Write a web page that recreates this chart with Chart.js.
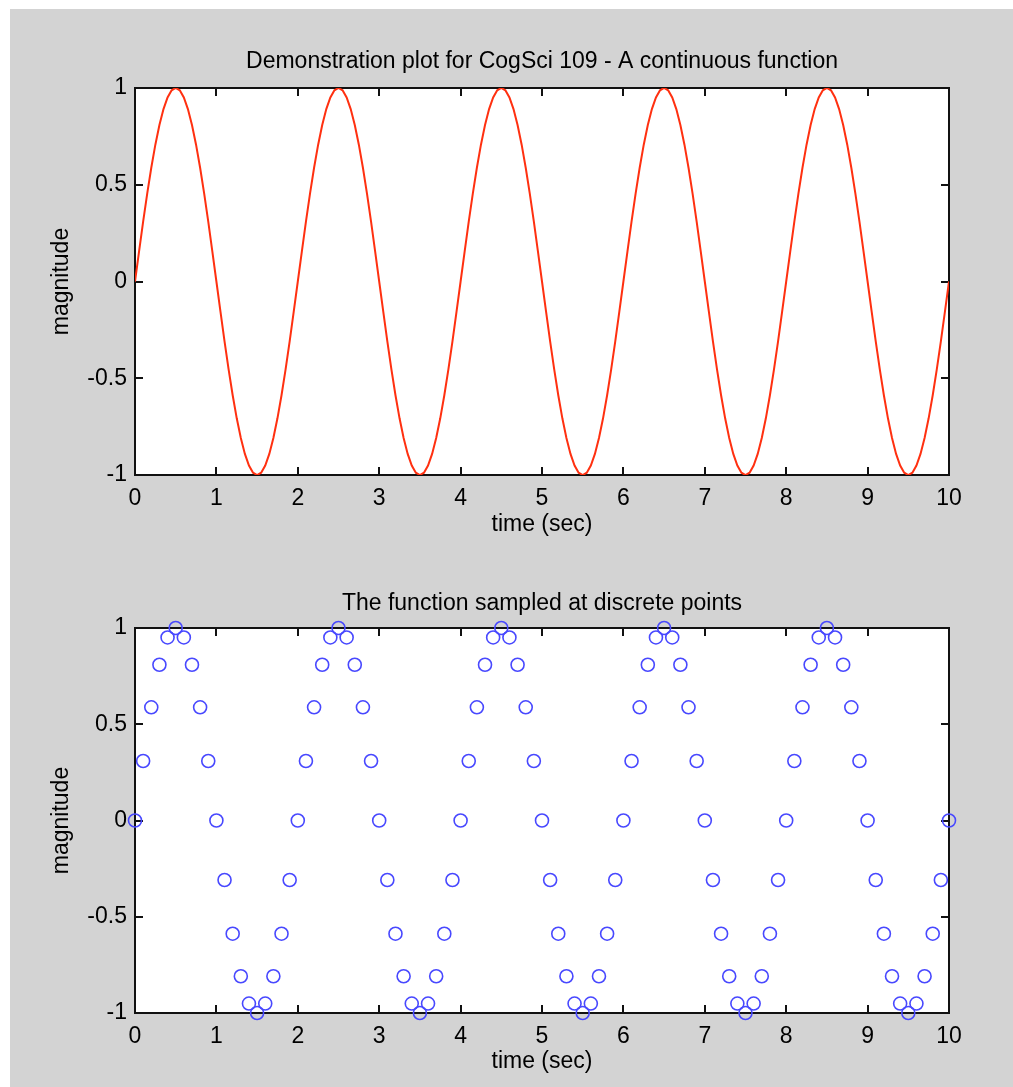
<!DOCTYPE html>
<html><head><meta charset="utf-8">
<script src="https://cdn.jsdelivr.net/npm/chart.js@4"></script>
<style>
html,body{margin:0;padding:0;background:#fff;width:1013px;height:1087px;overflow:hidden;}
#bg{position:absolute;left:10px;top:9px;width:1003px;height:1078px;background:#d3d3d3;}
canvas{position:absolute;left:0;}
#c1{top:0}
#c2{top:545px}
</style></head><body>
<div id="bg"></div>
<canvas id="c1" width="1013" height="545"></canvas>
<canvas id="c2" width="1013" height="542"></canvas>
<script>
// ---- data ----
const fineTimes = [
0,0.05,0.1,0.15,0.2,0.25,0.3,0.35,0.4,0.45,0.5,0.55,0.6,0.65,0.7,0.75,0.8,0.85,0.9,0.95,
1,1.05,1.1,1.15,1.2,1.25,1.3,1.35,1.4,1.45,1.5,1.55,1.6,1.65,1.7,1.75,1.8,1.85,1.9,1.95,
2,2.05,2.1,2.15,2.2,2.25,2.3,2.35,2.4,2.45,2.5,2.55,2.6,2.65,2.7,2.75,2.8,2.85,2.9,2.95,
3,3.05,3.1,3.15,3.2,3.25,3.3,3.35,3.4,3.45,3.5,3.55,3.6,3.65,3.7,3.75,3.8,3.85,3.9,3.95,
4,4.05,4.1,4.15,4.2,4.25,4.3,4.35,4.4,4.45,4.5,4.55,4.6,4.65,4.7,4.75,4.8,4.85,4.9,4.95,
5,5.05,5.1,5.15,5.2,5.25,5.3,5.35,5.4,5.45,5.5,5.55,5.6,5.65,5.7,5.75,5.8,5.85,5.9,5.95,
6,6.05,6.1,6.15,6.2,6.25,6.3,6.35,6.4,6.45,6.5,6.55,6.6,6.65,6.7,6.75,6.8,6.85,6.9,6.95,
7,7.05,7.1,7.15,7.2,7.25,7.3,7.35,7.4,7.45,7.5,7.55,7.6,7.65,7.7,7.75,7.8,7.85,7.9,7.95,
8,8.05,8.1,8.15,8.2,8.25,8.3,8.35,8.4,8.45,8.5,8.55,8.6,8.65,8.7,8.75,8.8,8.85,8.9,8.95,
9,9.05,9.1,9.15,9.2,9.25,9.3,9.35,9.4,9.45,9.5,9.55,9.6,9.65,9.7,9.75,9.8,9.85,9.9,9.95,
10];
const fineValues = [
0,0.156,0.309,0.454,0.588,0.707,0.809,0.891,0.951,0.988,1,0.988,0.951,0.891,0.809,0.707,0.588,0.454,0.309,0.156,
0,-0.156,-0.309,-0.454,-0.588,-0.707,-0.809,-0.891,-0.951,-0.988,-1,-0.988,-0.951,-0.891,-0.809,-0.707,-0.588,-0.454,-0.309,-0.156,
0,0.156,0.309,0.454,0.588,0.707,0.809,0.891,0.951,0.988,1,0.988,0.951,0.891,0.809,0.707,0.588,0.454,0.309,0.156,
0,-0.156,-0.309,-0.454,-0.588,-0.707,-0.809,-0.891,-0.951,-0.988,-1,-0.988,-0.951,-0.891,-0.809,-0.707,-0.588,-0.454,-0.309,-0.156,
0,0.156,0.309,0.454,0.588,0.707,0.809,0.891,0.951,0.988,1,0.988,0.951,0.891,0.809,0.707,0.588,0.454,0.309,0.156,
0,-0.156,-0.309,-0.454,-0.588,-0.707,-0.809,-0.891,-0.951,-0.988,-1,-0.988,-0.951,-0.891,-0.809,-0.707,-0.588,-0.454,-0.309,-0.156,
0,0.156,0.309,0.454,0.588,0.707,0.809,0.891,0.951,0.988,1,0.988,0.951,0.891,0.809,0.707,0.588,0.454,0.309,0.156,
0,-0.156,-0.309,-0.454,-0.588,-0.707,-0.809,-0.891,-0.951,-0.988,-1,-0.988,-0.951,-0.891,-0.809,-0.707,-0.588,-0.454,-0.309,-0.156,
0,0.156,0.309,0.454,0.588,0.707,0.809,0.891,0.951,0.988,1,0.988,0.951,0.891,0.809,0.707,0.588,0.454,0.309,0.156,
0,-0.156,-0.309,-0.454,-0.588,-0.707,-0.809,-0.891,-0.951,-0.988,-1,-0.988,-0.951,-0.891,-0.809,-0.707,-0.588,-0.454,-0.309,-0.156,
0];
const sampleTimes = [
0,0.1,0.2,0.3,0.4,0.5,0.6,0.7,0.8,0.9,
1,1.1,1.2,1.3,1.4,1.5,1.6,1.7,1.8,1.9,
2,2.1,2.2,2.3,2.4,2.5,2.6,2.7,2.8,2.9,
3,3.1,3.2,3.3,3.4,3.5,3.6,3.7,3.8,3.9,
4,4.1,4.2,4.3,4.4,4.5,4.6,4.7,4.8,4.9,
5,5.1,5.2,5.3,5.4,5.5,5.6,5.7,5.8,5.9,
6,6.1,6.2,6.3,6.4,6.5,6.6,6.7,6.8,6.9,
7,7.1,7.2,7.3,7.4,7.5,7.6,7.7,7.8,7.9,
8,8.1,8.2,8.3,8.4,8.5,8.6,8.7,8.8,8.9,
9,9.1,9.2,9.3,9.4,9.5,9.6,9.7,9.8,9.9,
10];
const sampleValues = [
0,0.309,0.588,0.809,0.951,1,0.951,0.809,0.588,0.309,
0,-0.309,-0.588,-0.809,-0.951,-1,-0.951,-0.809,-0.588,-0.309,
0,0.309,0.588,0.809,0.951,1,0.951,0.809,0.588,0.309,
0,-0.309,-0.588,-0.809,-0.951,-1,-0.951,-0.809,-0.588,-0.309,
0,0.309,0.588,0.809,0.951,1,0.951,0.809,0.588,0.309,
0,-0.309,-0.588,-0.809,-0.951,-1,-0.951,-0.809,-0.588,-0.309,
0,0.309,0.588,0.809,0.951,1,0.951,0.809,0.588,0.309,
0,-0.309,-0.588,-0.809,-0.951,-1,-0.951,-0.809,-0.588,-0.309,
0,0.309,0.588,0.809,0.951,1,0.951,0.809,0.588,0.309,
0,-0.309,-0.588,-0.809,-0.951,-1,-0.951,-0.809,-0.588,-0.309,
0];
const xTickValues = [0,1,2,3,4,5,6,7,8,9,10];
const xTickLabels = ['0','1','2','3','4','5','6','7','8','9','10'];
const yTickValues = [-1,-0.5,0,0.5,1];
const yTickLabels = ['-1','-0.5','0','0.5','1'];
const topTitle = 'Demonstration plot for CogSci 109 - A continuous function';
const bottomTitle = 'The function sampled at discrete points';
const xTitle = 'time (sec)';
const yTitle = 'magnitude';

// ---- drawing ----
const FONT = {family: "'Liberation Sans', Arial, Helvetica, sans-serif", size: 23, weight: 'normal', lineHeight: 1.2};
const TXT = '#000';

const axesBox = {
  id: 'axesBox',
  beforeDraw(chart) {
    const {ctx, chartArea: a} = chart;
    ctx.save();
    ctx.fillStyle = '#fff';
    ctx.fillRect(a.left, a.top, a.right - a.left, a.bottom - a.top);
    ctx.restore();
  },
  beforeDatasetsDraw(chart) {
    const {ctx, chartArea: a, scales} = chart;
    const L = 8;
    ctx.save();
    ctx.strokeStyle = '#111';
    ctx.lineWidth = 2;
    ctx.strokeRect(a.left, a.top, a.right - a.left, a.bottom - a.top);
    ctx.beginPath();
    scales.x.ticks.forEach(t => {
      const px = Math.round(scales.x.getPixelForValue(t.value));
      ctx.moveTo(px, a.bottom); ctx.lineTo(px, a.bottom - L);
      ctx.moveTo(px, a.top); ctx.lineTo(px, a.top + L);
    });
    scales.y.ticks.forEach(t => {
      const py = Math.round(scales.y.getPixelForValue(t.value));
      ctx.moveTo(a.left, py); ctx.lineTo(a.left + L, py);
      ctx.moveTo(a.right, py); ctx.lineTo(a.right - L, py);
    });
    ctx.stroke();
    ctx.restore();
  }
};

function makeOptions(title, tTop, tBottom, xAxisH, xTitlePadBottom) {
  return {
    responsive: false,
    animation: false,
    devicePixelRatio: 1,
    layout: {padding: {left: 0, right: 64, top: 0, bottom: 0}},
    plugins: {
      legend: {display: false},
      tooltip: {enabled: false},
      title: {display: true, fullSize: false, text: title, color: TXT, font: FONT, padding: {top: tTop, bottom: tBottom}}
    },
    scales: {
      x: {
        type: 'linear', min: 0, max: 10,
        grid: {display: false, drawTicks: false},
        border: {display: false},
        ticks: {stepSize: 1, padding: 10, color: TXT, font: FONT, maxRotation: 0,
          callback: v => { const i = xTickValues.indexOf(v); return i >= 0 ? xTickLabels[i] : ''; }},
        title: {display: true, text: xTitle, color: TXT, font: FONT, padding: {top: 0, bottom: xTitlePadBottom}},
        afterFit: s => { s.height = xAxisH; }
      },
      y: {
        type: 'linear', min: -1, max: 1,
        grid: {display: false, drawTicks: false},
        border: {display: false},
        ticks: {stepSize: 0.5, padding: 8, color: TXT, font: FONT,
          callback: v => { const i = yTickValues.indexOf(v); return i >= 0 ? yTickLabels[i] : ''; }},
        title: {display: true, text: yTitle, color: TXT, font: FONT, padding: {top: 48.2, bottom: 0}},
        afterFit: s => { s.width = 135; }
      }
    }
  };
}

new Chart(document.getElementById('c1'), {
  type: 'line',
  data: {
    datasets: [{
      data: fineTimes.map((t, i) => ({x: t, y: fineValues[i]})),
      borderColor: '#ff3010',
      borderWidth: 2,
      pointRadius: 0,
      tension: 0,
      fill: false
    }]
  },
  options: makeOptions(topTitle, 48.2, 12.2, 70, 6.2),
  plugins: [axesBox]
});

new Chart(document.getElementById('c2'), {
  type: 'scatter',
  data: {
    datasets: [{
      data: sampleTimes.map((t, i) => ({x: t, y: sampleValues[i]})),
      showLine: false,
      pointStyle: 'circle',
      pointRadius: 6.5,
      pointBorderWidth: 1.6,
      pointBorderColor: '#4848ff',
      pointBackgroundColor: 'rgba(0,0,0,0)',
      clip: false
    }]
  },
  options: makeOptions(bottomTitle, 45.2, 10.2, 74, 11.2),
  plugins: [axesBox]
});
</script>
</body></html>
